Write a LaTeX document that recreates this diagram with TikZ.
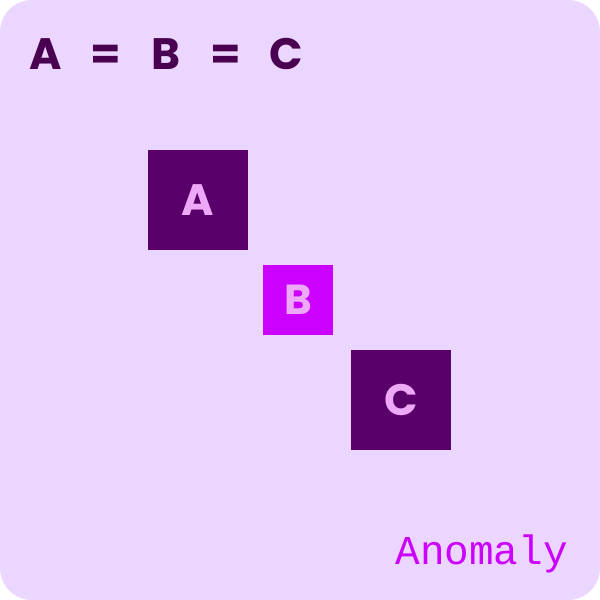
\documentclass[tikz,border=0pt]{standalone}
\usepackage{fontspec}
\newfontfamily\titlefont{Poppins}[UprightFont=* Bold]
\newfontfamily\monofont{Liberation Mono}
\definecolor{bg}{HTML}{EBD6FF}
\definecolor{dark}{HTML}{5A006A}
\definecolor{titlec}{HTML}{4A0050}
\definecolor{mag}{HTML}{CC00FF}
\definecolor{lite}{HTML}{EEA8F8}
\tikzset{
  sq/.style={draw=none, fill=dark, minimum size=100pt, inner sep=0pt, text=lite, font=\titlefont\fontsize{44}{44}\selectfont},
  sqb/.style={sq, fill=mag, minimum size=70pt, font=\titlefont\fontsize{42}{42}\selectfont},
  ttl/.style={text=titlec, font=\titlefont\fontsize{44}{44}\selectfont, anchor=base, inner sep=0pt}
}
\begin{document}
\begin{tikzpicture}[x=1pt,y=-1pt]
\useasboundingbox (0,0) rectangle (600,600);
\fill[white] (0,0) rectangle (600,600);
\fill[bg, rounded corners=32pt] (0,0) rectangle (600,600);
\node[ttl] (t1) at (46,69) {A};
\node[ttl] (t2) at (106,69) {=};
\node[ttl] (t3) at (166,69) {B};
\node[ttl] (t4) at (226,69) {=};
\node[ttl] (t5) at (286,69) {C};
\node[sq] (a) at (198,200) {A};
\node[sqb] (b) at (298,300) {B};
\node[sq] (c) at (401,400) {C};
\node[text=mag, font=\monofont\fontsize{41}{41}\selectfont, anchor=base east, inner sep=0pt] (lab) at (568,564) {Anomaly};
\end{tikzpicture}
\end{document}
